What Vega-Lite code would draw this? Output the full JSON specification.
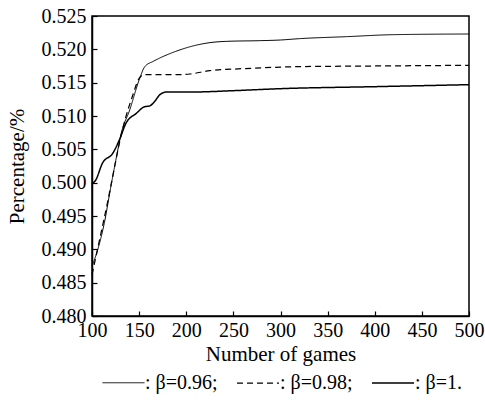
{
  "$schema": "https://vega.github.io/schema/vega-lite/v6.json",
  "width": 377,
  "height": 300,
  "autosize": "none",
  "padding": {"left": 92, "top": 16, "right": 16, "bottom": 86},
  "background": "white",
  "config": {
    "font": "Liberation Serif",
    "view": {"stroke": "black", "strokeWidth": 1.5},
    "axis": {
      "grid": false,
      "domainColor": "black",
      "domainWidth": 1.5,
      "tickColor": "black",
      "tickWidth": 1.2,
      "labelColor": "black",
      "titleColor": "black",
      "labelFont": "Liberation Serif",
      "titleFont": "Liberation Serif",
      "labelFontSize": 20,
      "titleFontSize": 21,
      "titleFontWeight": "normal"
    }
  },
  "data": {
    "values": [
      {"g": 100, "v": 0.4875, "s": "β=0.96"},
      {"g": 106, "v": 0.4899, "s": "β=0.96"},
      {"g": 113, "v": 0.4939, "s": "β=0.96"},
      {"g": 120, "v": 0.4994, "s": "β=0.96"},
      {"g": 126, "v": 0.5039, "s": "β=0.96"},
      {"g": 131, "v": 0.5074, "s": "β=0.96"},
      {"g": 140, "v": 0.5109, "s": "β=0.96"},
      {"g": 150, "v": 0.5154, "s": "β=0.96"},
      {"g": 156, "v": 0.5174, "s": "β=0.96"},
      {"g": 165, "v": 0.5182, "s": "β=0.96"},
      {"g": 172, "v": 0.5187, "s": "β=0.96"},
      {"g": 189, "v": 0.5197, "s": "β=0.96"},
      {"g": 207, "v": 0.5205, "s": "β=0.96"},
      {"g": 225, "v": 0.5210, "s": "β=0.96"},
      {"g": 243, "v": 0.5212, "s": "β=0.96"},
      {"g": 278, "v": 0.5213, "s": "β=0.96"},
      {"g": 300, "v": 0.5214, "s": "β=0.96"},
      {"g": 320, "v": 0.5216, "s": "β=0.96"},
      {"g": 370, "v": 0.5219, "s": "β=0.96"},
      {"g": 420, "v": 0.5222, "s": "β=0.96"},
      {"g": 500, "v": 0.5223, "s": "β=0.96"},
      {"g": 100, "v": 0.4862, "s": "β=0.98"},
      {"g": 108, "v": 0.4914, "s": "β=0.98"},
      {"g": 117, "v": 0.4974, "s": "β=0.98"},
      {"g": 124, "v": 0.5024, "s": "β=0.98"},
      {"g": 129, "v": 0.5059, "s": "β=0.98"},
      {"g": 136, "v": 0.5099, "s": "β=0.98"},
      {"g": 143, "v": 0.5130, "s": "β=0.98"},
      {"g": 149, "v": 0.5154, "s": "β=0.98"},
      {"g": 155, "v": 0.5162, "s": "β=0.98"},
      {"g": 172, "v": 0.5162, "s": "β=0.98"},
      {"g": 190, "v": 0.5162, "s": "β=0.98"},
      {"g": 204, "v": 0.5163, "s": "β=0.98"},
      {"g": 225, "v": 0.5168, "s": "β=0.98"},
      {"g": 260, "v": 0.5171, "s": "β=0.98"},
      {"g": 320, "v": 0.5174, "s": "β=0.98"},
      {"g": 400, "v": 0.5175, "s": "β=0.98"},
      {"g": 500, "v": 0.5176, "s": "β=0.98"},
      {"g": 100, "v": 0.4998, "s": "β=1."},
      {"g": 104, "v": 0.5004, "s": "β=1."},
      {"g": 111, "v": 0.5029, "s": "β=1."},
      {"g": 122, "v": 0.5044, "s": "β=1."},
      {"g": 129, "v": 0.5064, "s": "β=1."},
      {"g": 136, "v": 0.5089, "s": "β=1."},
      {"g": 147, "v": 0.5104, "s": "β=1."},
      {"g": 156, "v": 0.5114, "s": "β=1."},
      {"g": 161, "v": 0.5115, "s": "β=1."},
      {"g": 166, "v": 0.5121, "s": "β=1."},
      {"g": 172, "v": 0.5132, "s": "β=1."},
      {"g": 179, "v": 0.5136, "s": "β=1."},
      {"g": 207, "v": 0.5136, "s": "β=1."},
      {"g": 250, "v": 0.5138, "s": "β=1."},
      {"g": 300, "v": 0.5141, "s": "β=1."},
      {"g": 400, "v": 0.5144, "s": "β=1."},
      {"g": 500, "v": 0.5147, "s": "β=1."}
    ]
  },
  "mark": {"type": "line", "interpolate": "monotone", "color": "black"},
  "encoding": {
    "x": {
      "field": "g", "type": "quantitative",
      "scale": {"domain": [100, 500], "nice": false, "zero": false},
      "axis": {"title": "Number of games", "values": [100,150,200,250,300,350,400,450,500], "tickSize": -5, "labelFlush": false, "labelPadding": 9, "titlePadding": 3}
    },
    "y": {
      "field": "v", "type": "quantitative",
      "scale": {"domain": [0.48, 0.525], "nice": false, "zero": false},
      "axis": {"title": "Percentage/%", "values": [0.48,0.485,0.49,0.495,0.5,0.505,0.51,0.515,0.52,0.525], "format": ".3f", "tickSize": -5, "labelPadding": 11, "titlePadding": 14}
    },
    "strokeDash": {
      "field": "s", "type": "nominal",
      "scale": {"domain": ["β=0.96", "β=0.98", "β=1."], "range": [[1,0],[6,4],[1,0]]},
      "legend": {
        "title": null, "orient": "none", "direction": "horizontal",
        "legendX": 10, "legendY": 345,
        "symbolType": "stroke", "symbolSize": 1764, "symbolStrokeColor": "black",
        "labelFont": "Liberation Serif", "labelFontSize": 20, "labelColor": "black",
        "labelExpr": "': ' + datum.label + (datum.label == 'β=1.' ? '' : ';')",
        "labelOffset": 0, "columnPadding": 16
      }
    },
    "strokeWidth": {
      "field": "s", "type": "nominal",
      "scale": {"domain": ["β=0.96", "β=0.98", "β=1."], "range": [1, 1.5, 4.5]},
      "legend": null
    }
  }
}
